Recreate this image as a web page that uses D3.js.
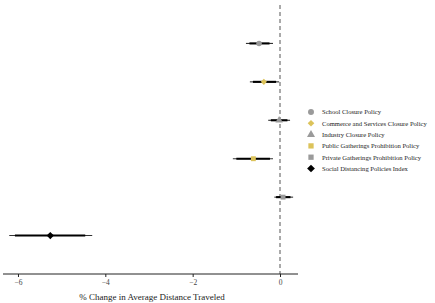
<!DOCTYPE html>
<html><head><meta charset="utf-8">
<script src="https://cdn.jsdelivr.net/npm/d3@7"></script>
<style>body{margin:0;background:#fff}svg{display:block}text{font-family:"Liberation Serif","Times New Roman",serif}</style>
</head><body><svg id="c" width="435" height="303"></svg>
<script>
const policies = ["School Closure Policy","Commerce and Services Closure Policy","Industry Closure Policy","Public Gatherings Prohibition Policy","Private Gatherings Prohibition Policy","Social Distancing Policies Index"];
const estimates = [-0.48,-0.37,-0.02,-0.61,0.07,-5.26];
const ci95Low  = [-0.78,-0.69,-0.27,-1.08,-0.13,-6.20];
const ci95High = [-0.16,-0.02,0.23,-0.16,0.30,-4.30];
const ci90Low  = [-0.70,-0.62,-0.21,-1.00,-0.09,-6.07];
const ci90High = [-0.24,-0.09,0.17,-0.23,0.24,-4.46];
const xTicks = [-6,-4,-2,0];
const xTitle = "% Change in Average Distance Traveled";
const markerShapes = ["circle","diamond","triangle","square","square","diamond"];
const markerColors = ["#9a9a9a","#dcc35a","#9a9a9a","#dcc35a","#9a9a9a","#000000"];

const svg = d3.select("#c");
const x = d3.scaleLinear().domain([-6.343,0.412]).range([3,298]);
const y = d3.scaleLinear().domain([0,7]).range([5,274]);
const symMap = {circle:d3.symbolCircle,diamond:d3.symbolDiamond2,triangle:d3.symbolTriangle,square:d3.symbolSquare};
const data = policies.map((p,i)=>({p,i,est:estimates[i],l95:ci95Low[i],h95:ci95High[i],l90:ci90Low[i],h90:ci90High[i]}));

// zero line
svg.append("line").attr("x1",x(0)).attr("x2",x(0)).attr("y1",y(0)).attr("y2",y(7))
  .attr("stroke","#555").attr("stroke-width",1).attr("stroke-dasharray","4,3");

// axis
const ax = svg.append("g").attr("transform",`translate(0,${y(7)})`)
  .call(d3.axisBottom(x).tickValues(xTicks).tickSize(3).tickPadding(3).tickFormat(d=>d===0?"0":"\u2212"+Math.abs(d)));
ax.select(".domain").attr("d",`M${x.range()[0]},0H${x.range()[1]}`).attr("stroke","#222");
ax.selectAll(".tick line").attr("stroke","#222");
ax.selectAll("text").attr("font-size",7.5).attr("fill","#444").attr("font-family","Liberation Serif, serif");

svg.append("text").attr("x",(x(-6)+x(0))/2+3).attr("y",300).attr("text-anchor","middle")
  .attr("font-size",9).attr("fill","#222").text(xTitle);

const g = svg.append("g");
g.selectAll("line.t95").data(data).join("line").attr("class","t95")
  .attr("x1",d=>x(d.l95)).attr("x2",d=>x(d.h95)).attr("y1",d=>y(d.i+1)).attr("y2",d=>y(d.i+1))
  .attr("stroke","#333").attr("stroke-width",1.1);
g.selectAll("line.t90").data(data).join("line").attr("class","t90")
  .attr("x1",d=>x(d.l90)).attr("x2",d=>x(d.h90)).attr("y1",d=>y(d.i+1)).attr("y2",d=>y(d.i+1))
  .attr("stroke","#000").attr("stroke-width",2.1);
g.selectAll("path.pt").data(data).join("path").attr("class","pt")
  .attr("transform",d=>`translate(${x(d.est)},${y(d.i+1)})`)
  .attr("d",d=>d3.symbol().type(symMap[markerShapes[d.i]]).size(d.i===5?34:24)())
  .attr("fill",d=>markerColors[d.i]);

// legend
const lg = svg.append("g").attr("transform","translate(311,112)");
const li = lg.selectAll("g").data(data).join("g").attr("transform",(d,i)=>`translate(0,${i*11.3})`);
li.append("path").attr("d",d=>d3.symbol().type(symMap[markerShapes[d.i]]).size(d.i===5?38:28)())
  .attr("fill",d=>markerColors[d.i]);
li.append("text").attr("x",11).attr("y",2.3).attr("font-size",6.6).attr("fill","#222").text(d=>d.p);
</script></body></html>
